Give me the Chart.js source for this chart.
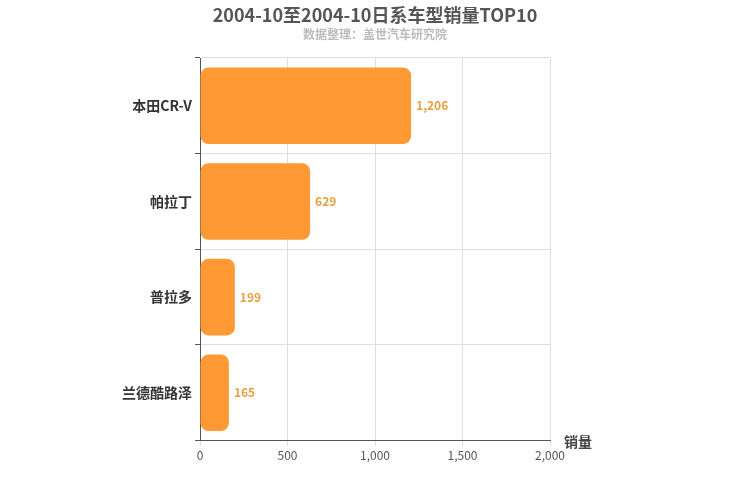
<!DOCTYPE html>
<html><head><meta charset="utf-8">
<script src="https://cdn.jsdelivr.net/npm/chart.js@4"></script>
<style>body{margin:0;background:#fff}#w{width:750px;height:500px}</style>
</head><body><div id="w"><canvas id="c"></canvas></div>
<script>
const categories=["本田CR-V","帕拉丁","普拉多","兰德酷路泽"];
const sales=[1206,629,199,165];
const xTicks=[0,500,1000,1500,2000];
const F="'Noto Sans CJK SC','Noto Sans',sans-serif";
const labels={id:'lbl',afterDatasetsDraw(ch){const c=ch.ctx;const m=ch.getDatasetMeta(0);c.save();c.font="bold 12px "+F;c.fillStyle="#e8a040";c.textBaseline="middle";
m.data.forEach((b,i)=>{c.fillText(sales[i].toLocaleString('en-US'),b.x+5,b.y);});
c.font="bold 14px "+F;c.fillStyle="#444";c.fillText("销量",564,ch.chartArea.bottom+1);c.restore();}};
new Chart(document.getElementById('c'),{type:'bar',
data:{labels:categories,datasets:[{data:sales,backgroundColor:'#ff9933',borderRadius:8,borderSkipped:false,barPercentage:0.8,categoryPercentage:1}]},
options:{indexAxis:'y',responsive:true,maintainAspectRatio:false,animation:false,
layout:{padding:{left:0,right:0,top:0,bottom:34}},
plugins:{legend:{display:false},tooltip:{enabled:false},
title:{display:true,text:'2004-10至2004-10日系车型销量TOP10',color:'#555',font:{size:18,weight:'bold',family:F},padding:{top:4,bottom:2}},
subtitle:{display:true,text:'数据整理：盖世汽车研究院',color:'#bbb',font:{size:12,weight:'bold',family:F},padding:{bottom:16}}},
scales:{x:{min:0,max:2000,afterBuildTicks(a){a.ticks=xTicks.map(v=>({value:v}));},
ticks:{color:'#555',font:{size:12,family:F},callback:v=>v.toLocaleString('en-US')},
grid:{color:'#ddd',drawTicks:true,tickLength:5},border:{color:'#555'}},
y:{afterFit(a){a.width=200;},ticks:{color:'#333',font:{size:14,weight:'bold',family:F}},
grid:{offset:true,color:'#ddd',tickColor:'#555',tickLength:5},border:{color:'#555'}},
y2:{type:'category',labels:categories,position:'right',afterFit(a){a.width=200;},ticks:{display:false},grid:{display:false},border:{display:false}}}},
plugins:[labels]});
</script></body></html>
